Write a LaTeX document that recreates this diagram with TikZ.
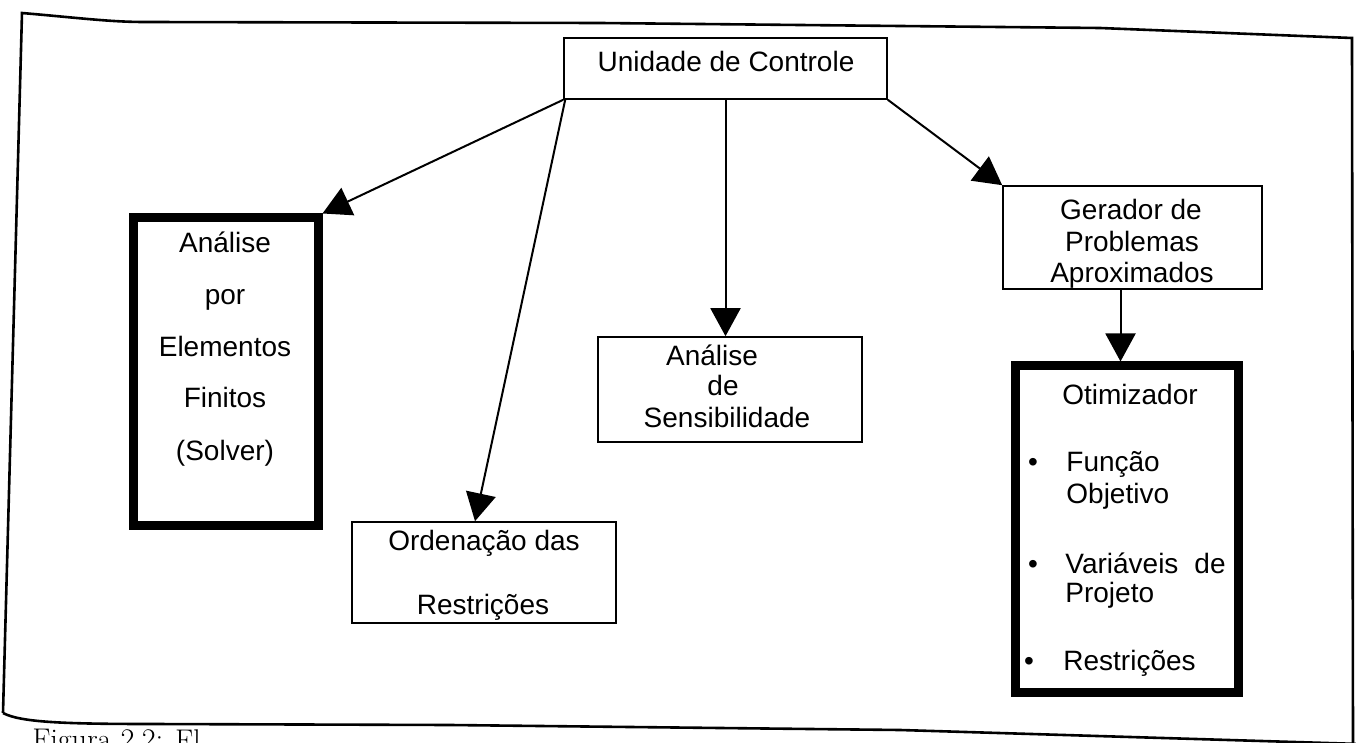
\documentclass[tikz,border=0pt]{standalone}
\usepackage{fontspec}
\newfontfamily\arialf{Liberation Sans}
\usetikzlibrary{arrows.meta}
\tikzset{
  x=0.5pt, y=-0.5pt,
  box/.style={draw=black, line width=0.8pt, fill=white, inner sep=0pt, rectangle},
  thickbox/.style={draw=black, line width=4.5pt, fill=white, inner sep=0pt, rectangle},
  txt/.style={font=\arialf\fontsize{14}{16}\selectfont, inner sep=0pt, anchor=base},
  txtw/.style={font=\arialf\fontsize{14}{16}\selectfont, inner sep=0pt, anchor=base west},
  conn/.style={draw=black, line width=1pt, -{Triangle[length=14pt,width=15pt]}},
  frame/.style={draw=black, line width=1.3pt},
  captxt/.style={font=\fontsize{15}{18}\selectfont, inner sep=0pt, anchor=base west}
}
\begin{document}
\begin{tikzpicture}
\useasboundingbox (0,0) rectangle (1356,743);
\clip (0,0) rectangle (1356,743);
\fill[white] (0,0) rectangle (1356,743);
% outer frame
\draw[frame] (3,713) -- (22,13) .. controls (80,18) and (110,22) .. (145,22) -- (600,23) -- (1100,28) -- (1352,38) -- (1353,750);
\draw[frame] (3,713) .. controls (20,722) and (60,724) .. (150,724) -- (450,725) -- (900,730) -- (1360,744);
% caption (cut off at the bottom edge)
\node[captxt, rotate=-0.4] (cap) at (32,749) {Figura 2.2: Fl};
% boxes
\node[box, minimum width=161.5pt, minimum height=30.5pt] (uc) at (725.5,68.5) {};
\node[thickbox, minimum width=92.5pt, minimum height=153.5pt] (fe) at (225.5,371.5) {};
\node[box, minimum width=132pt, minimum height=50.5pt] (ord) at (484,572.5) {};
\node[box, minimum width=132pt, minimum height=52.5pt] (sens) at (730,389.5) {};
\node[box, minimum width=129.5pt, minimum height=51.5pt] (ger) at (1132.5,237.5) {};
\node[thickbox, minimum width=111.5pt, minimum height=163pt] (oti) at (1126.5,529) {};
% texts
\node[txt] (uct) at (726,72) {Unidade de Controle};
\node[txt] (fe1) at (225,253) {Análise};
\node[txt] (fe2) at (225,305) {por};
\node[txt] (fe3) at (225,357) {Elementos};
\node[txt] (fe4) at (225,408) {Finitos};
\node[txt] (fe5) at (225,460) {(Solver)};
\node[txt] (or1) at (484,550) {Ordenação das};
\node[txt] (or2) at (483,614) {Restrições};
\node[txt] (se1) at (712,365) {Análise};
\node[txt] (se2) at (723,396) {de};
\node[txt] (se3) at (727,428) {Sensibilidade};
\node[txt] (ge1) at (1131,220) {Gerador de};
\node[txt] (ge2) at (1132,251.5) {Problemas};
\node[txt] (ge3) at (1132,283) {Aproximados};
\node[txt] (ot0) at (1130,405) {Otimizador};
\node[txt] (b1) at (1033,472) {•};
\node[txtw] (ot1) at (1066,472) {Função};
\node[txtw] (ot2) at (1066,503) {Objetivo};
\node[txt] (b2) at (1033,573) {•};
\node[txtw] (ot3) at (1065,573) {Variáveis\hskip 8pt de};
\node[txtw] (ot4) at (1065,602) {Projeto};
\node[txt] (b3) at (1029,670) {•};
\node[txtw] (ot5) at (1063,670) {Restrições};
% connectors
\draw[conn] (uc.south west) -- (fe.north east);
\draw[conn] ([xshift=1pt]uc.south west) -- ([xshift=-4.5pt]ord.north);
\draw[conn] (uc.south) -- (uc.south |- sens.north);
\draw[conn] (uc.south east) -- (ger.north west);
\draw[conn] ([xshift=-6pt]ger.south) -- ([xshift=-3pt]oti.north);
\end{tikzpicture}
\end{document}
